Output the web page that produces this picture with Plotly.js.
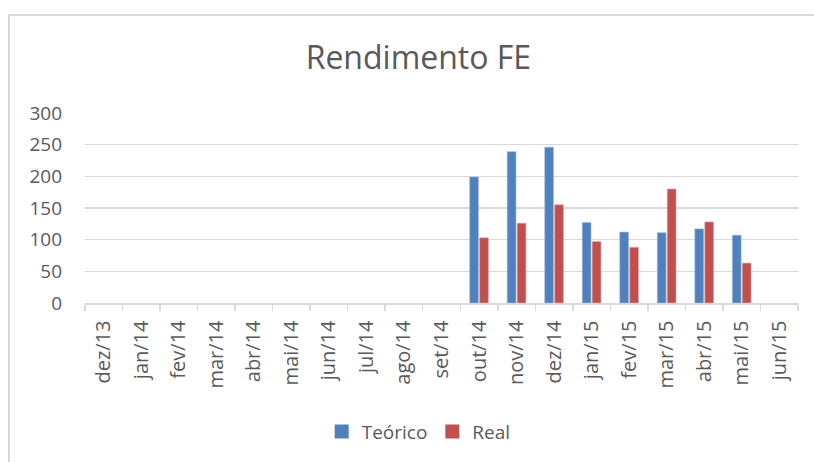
<!DOCTYPE html>
<html>
<head>
<meta charset="utf-8">
<script src="https://cdn.plot.ly/plotly-3.0.1.min.js"></script>
<style>
  html, body { margin: 0; padding: 0; background: #ffffff; width: 814px; height: 462px; overflow: hidden; }
  #chart { position: absolute; left: 0; top: 0; width: 814px; height: 462px; }
</style>
</head>
<body>
<div id="chart"></div>
<script>
const categories = ["dez/13","jan/14","fev/14","mar/14","abr/14","mai/14","jun/14","jul/14","ago/14","set/14",
                    "out/14","nov/14","dez/14","jan/15","fev/15","mar/15","abr/15","mai/15","jun/15"];
const teorico = [null,null,null,null,null,null,null,null,null,null,
                 199,239,246,127,112,111,117,107,null];
const real    = [null,null,null,null,null,null,null,null,null,null,
                 103,126,155,97,88,180,128,63,null];
const yTicks = [0,50,100,150,200,250,300];
const seriesNames = ["Teórico", "Real"];
const seriesColors = ["#4F81BD", "#C0504D"];

const textColor = "#595959";
const fontFam = "'Open Sans', sans-serif";

// plot area in pixels (for converting the chart frame to paper coords)
const PL = 85, PR = 798, PT = 113, PB = 305;
const px2x = p => (p - PL) / (PR - PL);
const py2y = p => (PB - p) / (PB - PT);

const traces = [
  { type: "bar", name: seriesNames[0], x: categories, y: teorico, showlegend: false,
    marker: { color: seriesColors[0], line: { color: "#9bb7dd", width: 0.6 } } },
  { type: "bar", name: seriesNames[1], x: categories, y: real, showlegend: false,
    marker: { color: seriesColors[1], line: { color: "#e0a3a1", width: 0.6 } } },
  { type: "scatter", mode: "markers", name: seriesNames[0], x: [null], y: [null],
    marker: { symbol: "square", size: 14, color: seriesColors[0] }, hoverinfo: "skip" },
  { type: "scatter", mode: "markers", name: seriesNames[1], x: [null], y: [null],
    marker: { symbol: "square", size: 14, color: seriesColors[1] }, hoverinfo: "skip" }
];

const frameLine = { color: "#d9d9d9", width: 2 };

const layout = {
  width: 814, height: 462,
  paper_bgcolor: "#ffffff", plot_bgcolor: "rgba(0,0,0,0)",
  margin: { l: PL, r: 814 - PR, t: PT, b: 462 - PB },
  font: { family: fontFam, color: textColor, size: 19 },
  title: { text: "Rendimento FE", font: { family: fontFam, size: 32, color: textColor },
           xref: "container", x: 0.514, xanchor: "center",
           yref: "container", y: 1 - 58/462, yanchor: "middle" },
  barmode: "group", bargap: 0.47, bargroupgap: 0.12,
  showlegend: true,
  legend: { orientation: "h", x: 0.468, xanchor: "center", y: -0.677, yanchor: "middle",
            font: { family: fontFam, size: 19, color: textColor }, itemwidth: 30,
            tracegroupgap: 0 },
  shapes: [
    { type: "line", xref: "paper", yref: "paper", layer: "below",
      x0: px2x(9), x1: px2x(9), y0: py2y(13), y1: py2y(470), line: frameLine },
    { type: "line", xref: "paper", yref: "paper", layer: "below",
      x0: px2x(8), x1: px2x(820), y0: py2y(14), y1: py2y(14), line: frameLine }
  ],
  xaxis: { type: "category", tickvals: categories, ticktext: categories,
           tickangle: -90, ticks: "outside", tickson: "boundaries", ticklen: 6,
           tickcolor: "#d9d9d9", tickwidth: 1.5,
           showline: true, linecolor: "#d9d9d9", linewidth: 1.5,
           showgrid: false, ticklabelstandoff: 8,
           tickfont: { family: fontFam, size: 20, color: textColor } },
  yaxis: { range: [0, 300], tickvals: yTicks, ticktext: yTicks.map(String),
           showgrid: true, gridcolor: "#d9d9d9", gridwidth: 1.5,
           showline: false, zeroline: false, ticks: "", ticklabelstandoff: 22,
           tickfont: { family: fontFam, size: 19, color: textColor } }
};

Plotly.newPlot("chart", traces, layout, { displayModeBar: false, staticPlot: true });
</script>
</body>
</html>
